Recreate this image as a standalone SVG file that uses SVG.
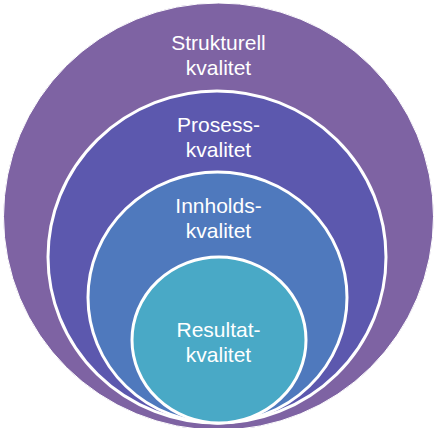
<svg xmlns="http://www.w3.org/2000/svg" width="437" height="428" viewBox="0 0 437 428">
<style>
.ring{stroke:#ffffff;stroke-width:3}
.lbl{font-family:"Liberation Sans","Open Sans",sans-serif;font-size:21px;fill:#ffffff;text-anchor:middle}
</style>
<rect width="437" height="428" fill="#ffffff"/>
<g id="strukturell">
<ellipse cx="218.5" cy="216.5" rx="215" ry="213.5" fill="#7E63A3" stroke="#ffffff" stroke-width="1"/>
<text class="lbl" x="218.5" y="50">Strukturell</text>
<text class="lbl" x="218.5" y="74.5">kvalitet</text>
</g>
<g id="prosess">
<ellipse class="ring" cx="217" cy="257" rx="169" ry="166" fill="#5C58AE"/>
<text class="lbl" x="218.5" y="132">Prosess-</text>
<text class="lbl" x="218.5" y="156.5">kvalitet</text>
</g>
<g id="innholds">
<ellipse class="ring" cx="217.5" cy="297.5" rx="129.5" ry="125.5" fill="#4F79BD"/>
<text class="lbl" x="218.5" y="213">Innholds-</text>
<text class="lbl" x="218.5" y="237.5">kvalitet</text>
</g>
<g id="resultat">
<ellipse class="ring" cx="219" cy="340" rx="87" ry="83" fill="#49A9C6"/>
<text class="lbl" x="218.5" y="337">Resultat-</text>
<text class="lbl" x="218.5" y="361.5">kvalitet</text>
</g>
<g id="connectors"/>
</svg>
